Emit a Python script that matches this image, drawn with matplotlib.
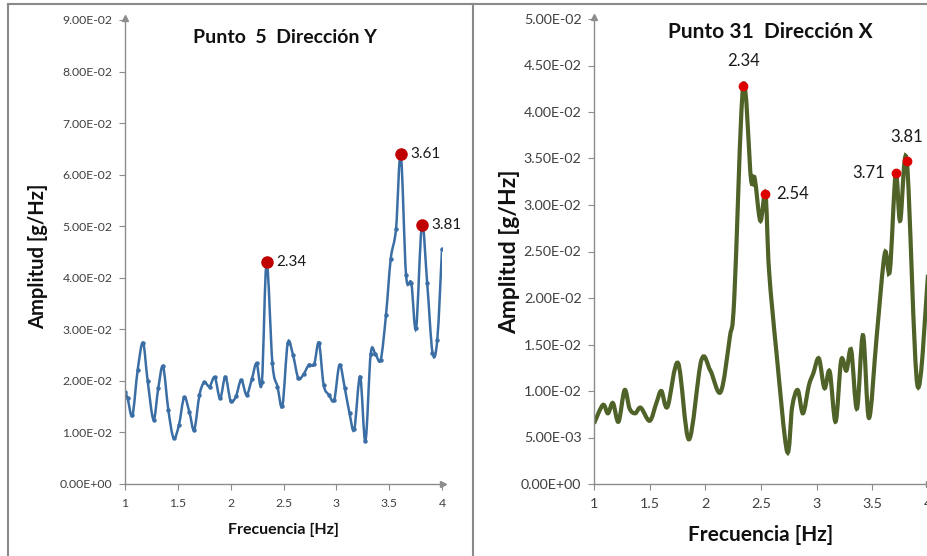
import numpy as np
import matplotlib.pyplot as plt
from matplotlib.path import Path
from matplotlib.patches import PathPatch
from matplotlib.lines import Line2D
from matplotlib.ticker import FuncFormatter

# Punto 5, direccion Y
freq_p5 = [1.00, 1.025, 1.07, 1.12, 1.17, 1.215, 1.27, 1.315, 1.36, 1.41,
           1.46, 1.51, 1.56, 1.61, 1.655, 1.705, 1.75, 1.80, 1.85, 1.90,
           1.95, 2.00, 2.05, 2.10, 2.15, 2.20, 2.245, 2.295, 2.34, 2.395,
           2.443, 2.49, 2.54, 2.59, 2.64, 2.69, 2.74, 2.79, 2.835, 2.88,
           2.93, 2.98, 3.03, 3.08, 3.125, 3.17, 3.225, 3.275, 3.325, 3.37,
           3.42, 3.47, 3.515, 3.565, 3.61, 3.66, 3.71, 3.755, 3.81, 3.86,
           3.91, 3.955, 4.00]
amp_p5 = [0.0179, 0.0166, 0.0133, 0.0221, 0.0274, 0.0199, 0.0125, 0.0186, 0.0228, 0.0144,
          0.0089, 0.0114, 0.0168, 0.0139, 0.0105, 0.0173, 0.0197, 0.0189, 0.0207, 0.0166,
          0.0208, 0.0161, 0.0170, 0.0202, 0.0173, 0.0203, 0.0234, 0.0197, 0.0430, 0.0234,
          0.0189, 0.0152, 0.0273, 0.0250, 0.0205, 0.0213, 0.0231, 0.0232, 0.0274, 0.0192,
          0.0173, 0.0163, 0.0231, 0.0186, 0.0137, 0.0106, 0.0208, 0.0083, 0.0252, 0.0252,
          0.0241, 0.0328, 0.0437, 0.0495, 0.0640, 0.0405, 0.0389, 0.0302, 0.0503, 0.0389,
          0.0255, 0.0279, 0.0455]
peaks_p5 = [2.34, 3.61, 3.81]

# Punto 31, direccion X
freq_p31 = [1.00, 1.08, 1.125, 1.17, 1.22, 1.275, 1.32, 1.37, 1.42, 1.50,
            1.56, 1.605, 1.66, 1.755, 1.853, 1.964, 2.045, 2.138, 2.22, 2.26,
            2.34, 2.41, 2.443, 2.494, 2.54, 2.572, 2.64, 2.734, 2.78, 2.83,
            2.877, 2.93, 2.97, 3.02, 3.07, 3.117, 3.17, 3.22, 3.267, 3.31,
            3.362, 3.416, 3.47, 3.54, 3.612, 3.657, 3.71, 3.75, 3.81, 3.905,
            4.00]
amp_p31 = [0.0065, 0.0085, 0.0076, 0.0087, 0.0067, 0.0101, 0.0081, 0.0076, 0.0082, 0.0068,
           0.0087, 0.0100, 0.0083, 0.0130, 0.0048, 0.0133, 0.0122, 0.0099, 0.0158, 0.0200,
           0.0428, 0.0328, 0.0329, 0.0283, 0.0312, 0.0230, 0.0140, 0.0035, 0.0083, 0.0101,
           0.0076, 0.0106, 0.0119, 0.0135, 0.0103, 0.0121, 0.0067, 0.0133, 0.0122, 0.0144,
           0.0081, 0.0160, 0.0071, 0.0160, 0.0248, 0.0229, 0.0334, 0.0283, 0.0347, 0.0106,
           0.0225]
peaks_p31 = [2.34, 2.54, 3.71, 3.81]

xticks = [1, 1.5, 2, 2.5, 3, 3.5, 4]

plt.rcParams['font.family'] = ['Lato', 'DejaVu Sans']

AXIS_GREY = '#8c8c8c'
TEXT_GREY = '#404040'


def smooth_path(x, y):
    # cubic bezier through every point (catmull-rom tangents), like a spreadsheet smoothed line
    pts = np.column_stack([x, y])
    n = len(pts)
    verts = [pts[0]]
    codes = [Path.MOVETO]
    for i in range(n - 1):
        p0 = pts[max(i - 1, 0)]
        p1 = pts[i]
        p2 = pts[i + 1]
        p3 = pts[min(i + 2, n - 1)]
        verts += [p1 + (p2 - p0) / 6.0, p2 - (p3 - p1) / 6.0, p2]
        codes += [Path.CURVE4] * 3
    return Path(verts, codes)


def style_axes(ax, ymax, ystep, fs):
    ax.set_xlim(1, 4)
    ax.set_ylim(0, ymax)
    ax.set_xticks(xticks)
    ax.set_yticks(np.arange(0, ymax + ystep / 2, ystep))
    ax.xaxis.set_major_formatter(FuncFormatter(lambda v, p: '%g' % v))
    ax.yaxis.set_major_formatter(FuncFormatter(lambda v, p: '%.2E' % v))
    for s in ['top', 'right']:
        ax.spines[s].set_visible(False)
    for s in ['left', 'bottom']:
        ax.spines[s].set_color(AXIS_GREY)
        ax.spines[s].set_linewidth(1.0)
    ax.tick_params(direction='out', length=4, width=0.8, color=AXIS_GREY,
                   labelcolor=TEXT_GREY, labelsize=fs)
    ax.tick_params(axis='y', pad=5)
    ax.tick_params(axis='x', pad=6)
    # little arrow heads at the axis ends
    ax.plot([0], [1.005], marker='^', ms=4, color=AXIS_GREY, transform=ax.transAxes, clip_on=False)
    ax.plot([1.003], [0], marker='>', ms=4, color=AXIS_GREY, transform=ax.transAxes, clip_on=False)


fig = plt.figure(figsize=(9.28, 5.56), dpi=100)

# panel frames
for xs, ys in [([8 / 928, 928 / 928], [1 - 4 / 556, 1 - 4 / 556]),
               ([8 / 928, 8 / 928], [0, 1 - 4 / 556]),
               ([473 / 928, 473 / 928], [0, 1 - 4 / 556])]:
    fig.add_artist(Line2D(xs, ys, color='#8a8a8a', lw=1.5, transform=fig.transFigure))

# left panel
ax1 = fig.add_axes([125 / 928, 72 / 556, 317 / 928, 464 / 556])
style_axes(ax1, 0.09, 0.01, 8.8)
ax1.add_patch(PathPatch(smooth_path(freq_p5, amp_p5), fill=False, ec='#3a6ea5', lw=1.8))
ax1.plot(freq_p5, amp_p5, 'o', ms=2.2, color='#3a6ea5')
for f in peaks_p5:
    a = amp_p5[freq_p5.index(f)]
    ax1.plot(f, a, 'o', ms=8, color='#c00000', zorder=5)
    ax1.annotate('%.2f' % f, (f, a), xytext=(7, 0), textcoords='offset points',
                 fontsize=11, color='#1a1a1a', va='center', ha='left')
ax1.text(0.505, 0.963, 'Punto  5  Dirección Y', transform=ax1.transAxes, ha='center',
         va='center', fontsize=14, fontweight='bold', color='#111111')
ax1.set_xlabel('Frecuencia [Hz]', fontsize=11.5, fontweight='bold', color='#111111')
ax1.set_ylabel('Amplitud [g/Hz]', fontsize=14.5, fontweight='bold', color='#111111')
ax1.xaxis.set_label_coords(0.50, -0.099)
ax1.yaxis.set_label_coords(-0.274, 0.49)
ax1.xaxis.label.set_va('center')
ax1.yaxis.label.set_va('center')

# right panel
ax2 = fig.add_axes([594 / 928, 72 / 556, 334 / 928, 465 / 556])
style_axes(ax2, 0.05, 0.005, 10.3)
ax2.add_patch(PathPatch(smooth_path(freq_p31, amp_p31), fill=False, ec='#4f6228', lw=3.0))
label_pos = {2.34: ((0, 12), 'center', 'bottom'),
             2.54: ((8, 0), 'left', 'center'),
             3.71: ((-8, 0), 'right', 'center'),
             3.81: ((0, 12), 'center', 'bottom')}
for f in peaks_p31:
    a = amp_p31[freq_p31.index(f)]
    ax2.plot(f, a, 'o', ms=6, color='#dd0000', zorder=5)
    off, ha, va = label_pos[f]
    ax2.annotate('%.2f' % f, (f, a), xytext=off, textcoords='offset points',
                 fontsize=12, color='#1a1a1a', ha=ha, va=va, annotation_clip=False)
ax2.text(0.527, 0.972, 'Punto 31  Dirección X', transform=ax2.transAxes, ha='center',
         va='center', fontsize=15, fontweight='bold', color='#111111')
ax2.set_xlabel('Frecuencia [Hz]', fontsize=15, fontweight='bold', color='#111111')
ax2.set_ylabel('Amplitud [g/Hz]', fontsize=16.5, fontweight='bold', color='#111111')
ax2.xaxis.set_label_coords(0.498, -0.11)
ax2.yaxis.set_label_coords(-0.252, 0.50)
ax2.xaxis.label.set_va('center')
ax2.yaxis.label.set_va('center')

fig.savefig('out.png', dpi=100)
